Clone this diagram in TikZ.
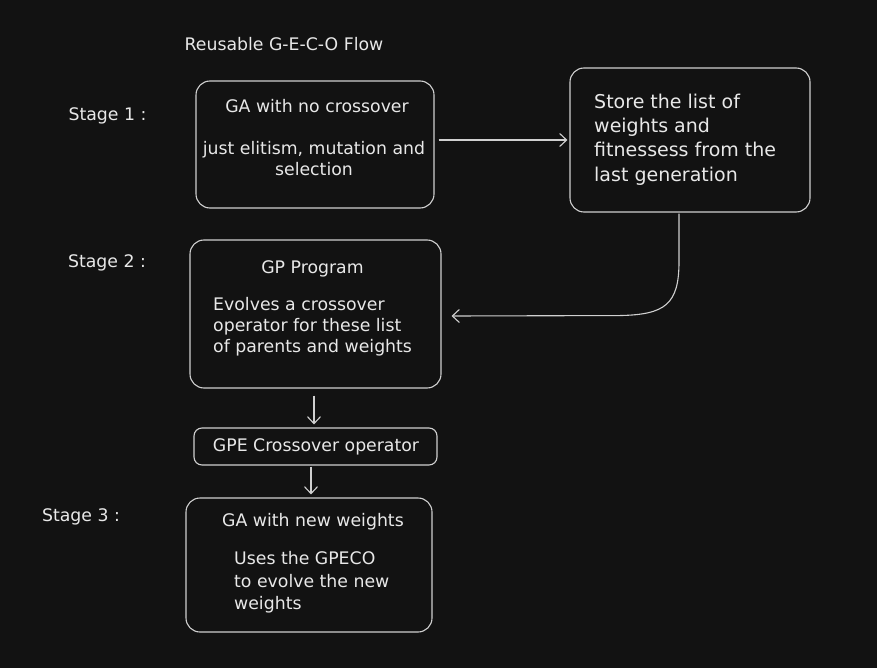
\documentclass[tikz,border=0pt]{standalone}
\usepackage{fontspec}
\setmainfont{DejaVu Sans}
\usetikzlibrary{arrows.meta}
\definecolor{bg}{HTML}{121212}
\definecolor{ln}{HTML}{D0D0D0}
\definecolor{tx}{HTML}{E8E8E8}
\begin{document}
\begin{tikzpicture}[x=1pt,y={(0pt,-1pt)},
  box/.style={draw=ln,line width=1.1pt,rounded corners=14pt,inner sep=0pt},
  txt/.style={text=tx,font=\fontsize{17.3}{21}\selectfont,inner sep=0pt},
  arr/.style={draw=ln,line width=1.1pt,-{Straight Barb[length=7pt,width=13pt,line width=1.1pt]}}]
\fill[bg] (0,0) rectangle (877,668);
\useasboundingbox (0,0) rectangle (877,668);
% title and stage labels
\node[txt] (title) at (284,44) {Reusable G-E-C-O Flow};
\node[txt] (s1) at (107.5,116) {Stage 1 :};
\node[txt] (s2) at (107,263) {Stage 2 :};
\node[txt] (s3) at (81,517) {Stage 3 :};
% boxes
\node[box,minimum width=238pt,minimum height=127pt] (b1) at (315,144.5) {};
\node[box,minimum width=240pt,minimum height=144pt] (b2) at (690,140) {};
\node[box,minimum width=251pt,minimum height=148pt] (b3) at (315.5,314) {};
\node[box,minimum width=243pt,minimum height=37pt,rounded corners=8pt] (gpe) at (315.5,446.5) {};
\node[box,minimum width=246pt,minimum height=134pt] (b4) at (309,565) {};
% texts
\node[txt] (t1a) at (317,106) {GA with no crossover};
\node[txt,align=center] (t1b) at (314,158.5) {just elitism, mutation and\\selection};
\node[txt,align=left,anchor=west,font=\fontsize{19}{24.3}\selectfont] (t2) at (594,139.5) {Store the list of\\weights and\\fitnessess from the\\last generation};
\node[txt] (t3a) at (312.5,269) {GP Program};
\node[txt,align=left,anchor=west] (t3b) at (213,327) {Evolves a crossover\\operator for these list\\of parents and weights};
\node[txt] (tg) at (316,446.5) {GPE Crossover operator};
\node[txt] (t4a) at (313,522) {GA with new weights};
\node[txt,align=left,anchor=west,font=\fontsize{17.3}{22.5}\selectfont] (t4b) at (234,582.5) {Uses the GPECO\\to evolve the new\\weights};
% connectors
\draw[arr] ([xshift=4pt,yshift=4.5pt]b1.east) -- ([xshift=-2pt]b2.west);
\coordinate (c1) at ([xshift=10pt,yshift=-2pt]b3.east);
\draw[arr] ([xshift=-11pt,yshift=-1pt]b2.south) -- ++(0,48) .. controls +(0,43) and +(45,-1) .. ++(-59,54) -- (c1);
\draw[arr] ([xshift=-1.5pt,yshift=-7pt]b3.south) -- ([xshift=-1.5pt,yshift=3pt]gpe.north);
\draw[arr] ([xshift=-4.5pt,yshift=-1pt]gpe.south) -- ([xshift=2pt,yshift=3pt]b4.north);
\end{tikzpicture}
\end{document}
